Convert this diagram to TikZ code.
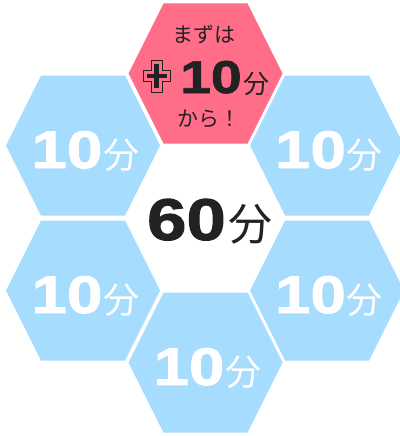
\documentclass[tikz,border=0pt]{standalone}
\usepackage{fontspec}
\usepackage{graphicx}
\newfontfamily\cjk{Noto Sans CJK JP}
\newfontfamily\numf{Liberation Sans}[BoldFeatures={FakeBold=1.5}]
\definecolor{hexblue}{HTML}{A6DCFE}
\definecolor{hexpink}{HTML}{FF6D89}
\definecolor{ink}{HTML}{222222}
\newcommand\hexat[3]{\fill[#3] ({#1-77},#2) -- ({#1-42},{#2-70}) -- ({#1+42},{#2-70}) -- ({#1+77},#2) -- ({#1+42},{#2+70}) -- ({#1-42},{#2+70}) -- cycle;}
\newcommand\bignum[2]{\scalebox{1.2}[1]{\numf\bfseries\fontsize{#1}{#1}\selectfont #2}}
\tikzset{
  tenlbl/.style={anchor=base, inner sep=0pt, text=white},
  jplbl/.style={inner sep=0pt, text=ink, font=\cjk\fontsize{21}{21}\selectfont},
}
\newcommand\tenmin{\bignum{53}{10}\hspace{1pt}{\cjk\fontsize{36}{36}\selectfont 分}}
\begin{document}
\begin{tikzpicture}[x=1pt,y=-1pt]
\useasboundingbox (0,0) rectangle (399,436);
\fill[white] (0,0) rectangle (399,436);
% hexagons
\hexat{205.5}{73.5}{hexpink}
\hexat{83}{145.5}{hexblue}
\hexat{327}{145.5}{hexblue}
\hexat{83}{290.5}{hexblue}
\hexat{327}{290.5}{hexblue}
\hexat{205.5}{362.5}{hexblue}
% labels
\node[tenlbl] (ul) at (85.5,168) {\tenmin};
\node[tenlbl] (ur) at (329,168) {\tenmin};
\node[tenlbl] (ll) at (85.5,313) {\tenmin};
\node[tenlbl] (lr) at (329,313) {\tenmin};
\node[tenlbl] (bt) at (207.5,385) {\tenmin};
\node[anchor=base, inner sep=0pt, text=ink] (mid) at (210,240)
  {\bignum{59}{60}\hspace{3pt}{\cjk\fontsize{44}{44}\selectfont 分}};
% pink hexagon contents
\node[jplbl] (mazu) at (203.5,34) {まずは};
\node[jplbl] (kara) at (208.5,119) {から！};
\node[anchor=base, inner sep=0pt, text=ink] (plusten) at (225,93)
  {\bignum{46}{10}\hspace{2pt}{\cjk\fontsize{26}{26}\selectfont 分}};
\coordinate (cross) at (156.5,76);
\draw[ink, line width=0.8pt, shift={(cross)}]
  (-5.5,-16) -- (5.5,-16) -- (5.5,-5.5) -- (13.5,-5.5) -- (13.5,5.5) -- (5.5,5.5) -- (5.5,16)
  -- (-5.5,16) -- (-5.5,5.5) -- (-13.5,5.5) -- (-13.5,-5.5) -- (-5.5,-5.5) -- cycle;
\draw[ink, line width=4.6pt, shift={(cross)}] (0,-12) -- (0,12) (-10,0) -- (10,0);
\end{tikzpicture}
\end{document}
